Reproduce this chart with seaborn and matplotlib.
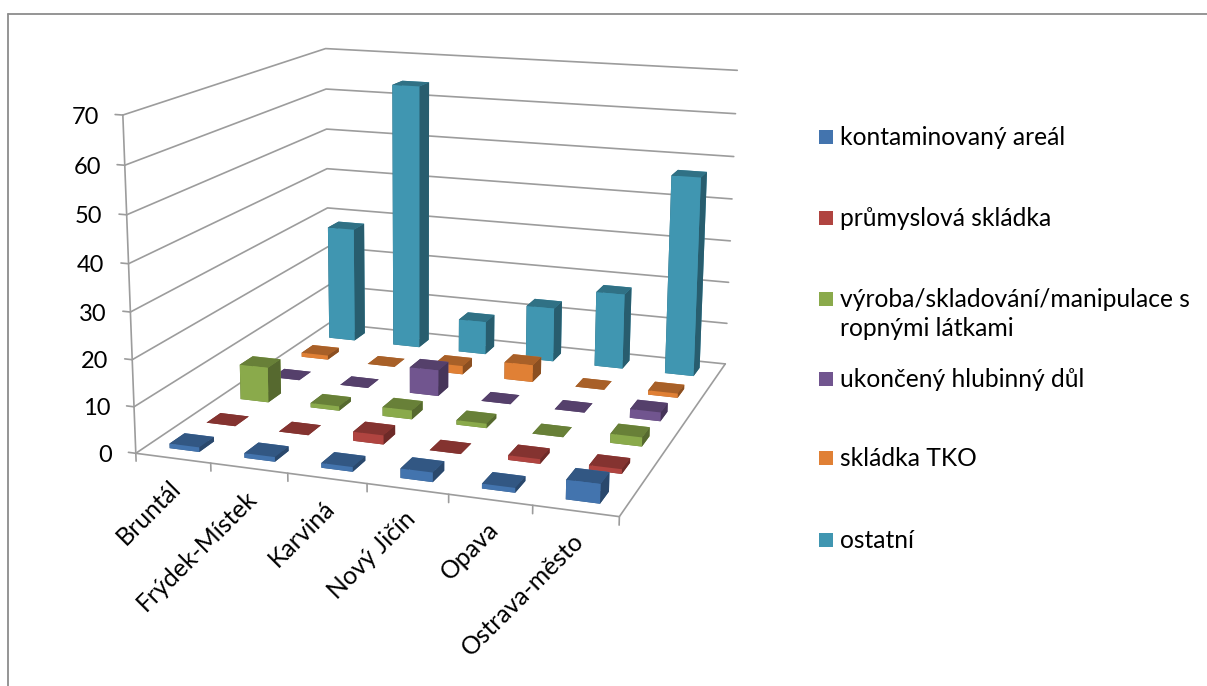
import numpy as np
import matplotlib
matplotlib.use("Agg")
import matplotlib.pyplot as plt
from matplotlib.lines import Line2D
from matplotlib.patches import Rectangle
from mpl_toolkits.mplot3d import proj3d
import seaborn as sns

districts = ["Bruntál", "Frýdek-Místek", "Karviná", "Nový Jičín", "Opava", "Ostrava-město"]
series_names = ["kontaminovaný areál", "průmyslová skládka",
                "výroba/skladování/manipulace s\nropnými látkami",
                "ukončený hlubinný důl", "skládka TKO", "ostatní"]
kontaminovany = [1, 1, 1, 2, 1, 4]
prumyslova = [0, 0, 2, 0, 1, 1]
vyroba = [8, 1, 2, 1, 0, 2]
ukonceny = [0, 0, 6, 0, 0, 2]
skladka_tko = [1, 0, 2, 4, 0, 1]
ostatni = [28, 64, 8, 13, 18, 47]
series_values = [kontaminovany, prumyslova, vyroba, ukonceny, skladka_tko, ostatni]
value_ticks = [0, 10, 20, 30, 40, 50, 60, 70]
series_hex = ["#4374ae", "#b04440", "#8aaa4b", "#71558f", "#e08035", "#4096b1"]

W, H = 1207, 686
sns.set_theme(style="white")
plt.rcParams["font.family"] = ["Lato", "DejaVu Sans"]
fig = plt.figure(figsize=(W / 100, H / 100), dpi=100)

# camera and placement of the 3D box
elev, azim, roll, focal = 13.94098, -70.95063, -0.25463, 0.48564
box_x, box_z = 0.99813, 0.68755
centre_x, centre_y, px_per_unit = 452.88976, 251.39529, 3882.74897

ax = fig.add_subplot(projection="3d", computed_zorder=False)
ax.set_axis_off()
ax.patch.set_alpha(0)
ax.view_init(elev, azim, roll)
ax.set_proj_type("persp", focal_length=focal)
ax.set_box_aspect((box_x, 1, box_z))
(x0, y0), (x1, y1) = ax.viewLim.get_points()
ax.set_position([(centre_x + px_per_unit * x0) / W,
                 1 - (centre_y - px_per_unit * y0) / H,
                 px_per_unit * (x1 - x0) / W,
                 px_per_unit * (y1 - y0) / H])

grid = "#9c9c9c"
line_w = 1.2
for z in value_ticks:
    ax.plot([0, 0, 6], [0, 6, 6], [z, z, z], color=grid, lw=line_w, zorder=1)
    ax.plot([0, -0.1], [0, 0], [z, z], color=grid, lw=line_w, zorder=1)
ax.plot([0, 0], [0, 0], [0, 70], color=grid, lw=line_w, zorder=1)
ax.plot([0, 6, 6], [0, 0, 6], [0, 0, 0], color=grid, lw=line_w, zorder=1)
for i in range(7):
    ax.plot([i, i], [0, 0], [0, -1.7], color=grid, lw=line_w, zorder=1)

# bars: rows further back are painted first
base = sns.color_palette(series_hex)
for row, values in enumerate(series_values):
    front = np.array(base[row])
    faces = [front * 0.75, front * 0.75, front, front, front * 0.62, front * 0.62]
    for col, v in enumerate(values):
        ax.bar3d(col + 0.3, row + 0.3, 0, 0.4, 0.4, v, color=faces, shade=False,
                 linewidth=0, zorder=10 + (5 - row) * 10 + col)
ax.set_xlim(0, 6, view_margin=0)
ax.set_ylim(0, 6, view_margin=0)
ax.set_zlim(0, 70, view_margin=0)


def screen_text(x, y, z, dx, dy, label, **kwargs):
    """Label a 3D position, nudged by (dx, dy) pixels on the page."""
    px, py, _ = proj3d.proj_transform(x, y, z, ax.get_proj())
    ax.text2D(px + dx / px_per_unit, py - dy / px_per_unit, label,
              transform=ax.transData, color="black", **kwargs)


for z in value_ticks:
    screen_text(0, 0, z, -24, 0, str(z), ha="right", va="center_baseline", fontsize=17)
for i, name in enumerate(districts):
    screen_text(i + 0.5, 0, 0, -4, 18, name, rotation=45, ha="right", va="top",
                rotation_mode="anchor", fontsize=17.8)

# legend column
legend_y = [137, 218, 299, 379, 458, 540]
for y, name, col in zip(legend_y, series_names, base):
    fig.add_artist(Rectangle((819 / W, 1 - (y + 7) / H), 14 / W, 14 / H,
                             transform=fig.transFigure, facecolor=col, edgecolor="none"))
    fig.text(840 / W, 1 - (y - 11) / H, name, ha="left", va="top", fontsize=17.7,
             color="black", linespacing=1.32)

# outer frame
for xs, ys in (([8, 8], [686, 14]), ([8, 1207], [14, 14])):
    fig.add_artist(Line2D([x / W for x in xs], [1 - y / H for y in ys], color="#8c8c8c", lw=1.3))
fig.savefig("out.png", dpi=100)
